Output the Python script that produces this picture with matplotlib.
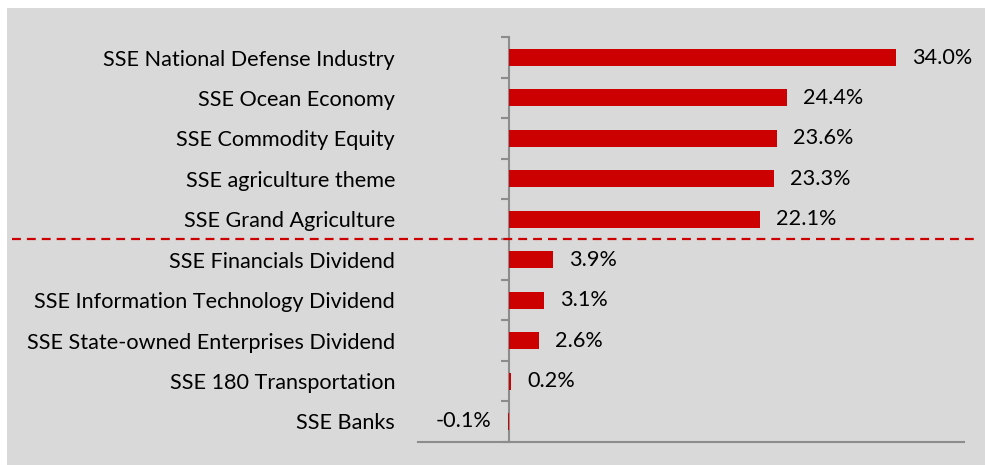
import matplotlib
matplotlib.use("Agg")
import matplotlib.pyplot as plt
import matplotlib.transforms as mtransforms
from matplotlib.patches import Rectangle
from matplotlib.lines import Line2D
import numpy as np

plt.rcParams['font.family'] = ['Lato', 'DejaVu Sans']

indices = [
    "SSE National Defense Industry",
    "SSE Ocean Economy",
    "SSE Commodity Equity",
    "SSE agriculture theme",
    "SSE Grand Agriculture",
    "SSE Financials Dividend",
    "SSE Information Technology Dividend",
    "SSE State-owned Enterprises Dividend",
    "SSE 180 Transportation",
    "SSE Banks",
]
returns = [34.0, 24.4, 23.6, 23.3, 22.1, 3.9, 3.1, 2.6, 0.2, -0.1]
split_after = 5  # dashed line between top 5 themes and the rest

BAR_RED = "#cc0000"
AXIS_GREY = "#8c8c8c"
BG_GREY = "#d9d9d9"
FS = 15.6


def main():
    fig = plt.figure(figsize=(9.85, 4.65), dpi=100)
    fig.patch.set_facecolor("white")
    fig.patches.append(Rectangle((7 / 985, 0), 1 - 7 / 985, 457 / 465,
                                 transform=fig.transFigure, facecolor=BG_GREY,
                                 edgecolor="none", zorder=-10))

    ax = fig.add_axes([418 / 985, 23.3 / 465, (964 - 418) / 985, (441.7 - 37.3) / 465])
    ax.set_facecolor("none")

    y = np.arange(len(indices))
    ax.barh(y, returns, height=0.42, color=BAR_RED, zorder=3)

    ax.set_xlim(-8, 40)
    ax.set_ylim(len(indices) - 0.5, -0.5)

    for s in ["top", "right"]:
        ax.spines[s].set_visible(False)
    ax.spines["left"].set_position(("data", 0))
    ax.spines["left"].set_color(AXIS_GREY)
    ax.spines["left"].set_linewidth(1.5)
    ax.spines["bottom"].set_color(AXIS_GREY)
    ax.spines["bottom"].set_linewidth(1.5)
    ax.set_xticks([])

    ax.set_yticks(y)
    ax.set_yticklabels(indices, fontsize=FS)
    ax.set_yticks(np.arange(len(indices) + 1) - 0.5, minor=True)
    ax.tick_params(axis="y", which="major", length=0, pad=82)
    ax.tick_params(axis="y", which="minor", length=6, width=1.5, color=AXIS_GREY)

    for yi, v in zip(y, returns):
        if v >= 0:
            ax.annotate(f"{v:.1f}%", (v, yi), xytext=(11.5, 0), textcoords="offset points",
                        ha="left", va="center", fontsize=FS)
        else:
            ax.annotate(f"{v:.1f}%", (v, yi), xytext=(-12, 0), textcoords="offset points",
                        ha="right", va="center", fontsize=FS)

    trans = mtransforms.blended_transform_factory(fig.transFigure, ax.transData)
    ax.add_line(Line2D([12 / 985, 975 / 985], [split_after - 0.5] * 2, transform=trans,
                       color=BAR_RED, linewidth=1.6, dashes=(4, 2.7), clip_on=False, zorder=4))

    fig.savefig("out.png", dpi=100, facecolor=fig.get_facecolor())


if __name__ == '__main__':
    main()
